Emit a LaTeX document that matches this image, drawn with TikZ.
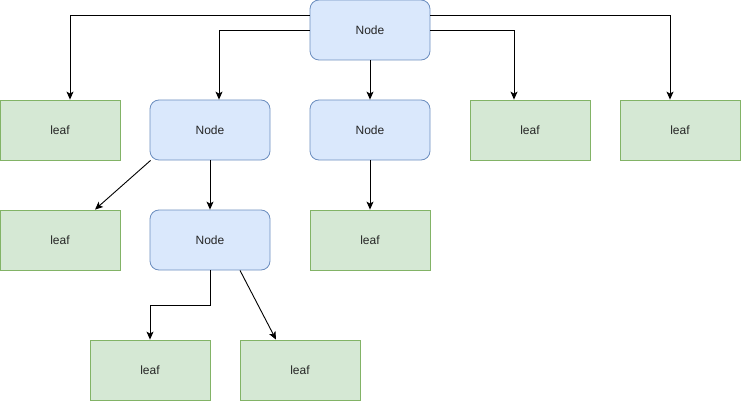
\documentclass[tikz,border=0pt]{standalone}
\usepackage{fontspec}
\setmainfont{Liberation Sans}
\usetikzlibrary{arrows.meta,positioning}
\definecolor{nodefill}{HTML}{DAE8FC}
\definecolor{nodeline}{HTML}{6C8EBF}
\definecolor{leaffill}{HTML}{D5E8D4}
\definecolor{leafline}{HTML}{82B366}

\begin{document}
\begin{tikzpicture}[
  x=1pt, y=-1pt,
  inner/.style={rectangle, draw=nodeline, fill=nodefill, rounded corners=9pt,
                minimum width=120pt, minimum height=60pt, line width=0.8pt,
                font=\fontsize{12}{14}\selectfont, text=black!85},
  leafbox/.style={rectangle, draw=leafline, fill=leaffill, minimum width=120pt,
                  minimum height=60pt, line width=0.8pt,
                  font=\fontsize{12}{14}\selectfont, text=black!85},
  edge/.style={draw, line width=0.9pt, -{Stealth[length=8pt,width=7pt,inset=2pt]}},
]
  \useasboundingbox (0,0) rectangle (741,401);
  % top
  \node[inner] (root) at (370,30) {Node};
  % second row
  \node[leafbox] (leafA) at (60,130) {leaf};
  \node[inner] (nodeB) at (210,130) {Node};
  \node[inner] (nodeC) at (370,130) {Node};
  \node[leafbox] (leafB) at (530,130) {leaf};
  \node[leafbox] (leafC) at (680,130) {leaf};
  % third row
  \node[leafbox] (leafD) at (60,240) {leaf};
  \node[inner] (nodeD) at (210,240) {Node};
  \node[leafbox] (leafG) at (370,240) {leaf};
  % bottom
  \node[leafbox] (leafE) at (150,370) {leaf};
  \node[leafbox] (leafF) at (300,370) {leaf};

  \draw[edge] ([yshift=15pt]root.west) -| ([xshift=10pt]leafA.north);
  \draw[edge] (root.west) -| ([xshift=9pt]nodeB.north);
  \draw[edge] (root) -- (nodeC);
  \draw[edge] (root.east) -| ([xshift=-16pt]leafB.north);
  \draw[edge] ([yshift=15pt]root.east) -| ([xshift=-10pt]leafC.north);
  \draw[edge] ([xshift=1pt]nodeB.south west) -- ([xshift=35pt]leafD.north);
  \draw[edge] (nodeB) -- (nodeD);
  \draw[edge] (nodeC) -- (leafG);
  \draw[edge] (nodeD.south) -- ++(0,35) -| (leafE.north);
  \draw[edge] ([xshift=30pt]nodeD.south) -- ([xshift=-24pt]leafF.north);
\end{tikzpicture}
\end{document}
